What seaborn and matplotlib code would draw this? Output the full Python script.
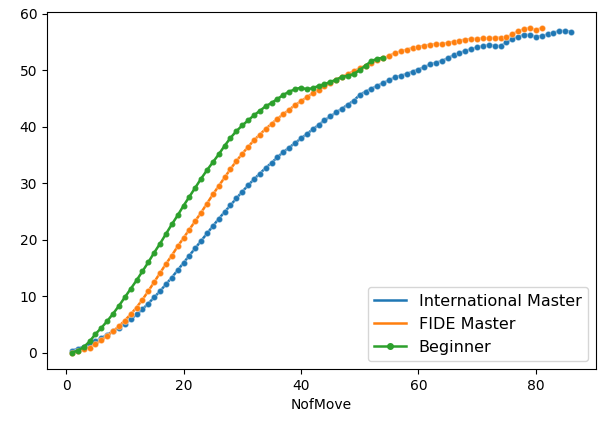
import numpy as np
import pandas as pd
import seaborn as sns
import matplotlib.pyplot as plt
from matplotlib.lines import Line2D

# Average value per move number
international_master = [
    0.4, 0.7, 1.1, 1.5, 2.0, 2.6, 3.2, 3.8, 4.4, 5.1,
    5.9, 6.8, 7.7, 8.7, 9.8, 10.9, 12.1, 13.3, 14.6, 15.9,
    17.2, 18.5, 19.8, 21.1, 22.4, 23.7, 24.9, 26.1, 27.3, 28.5,
    29.6, 30.7, 31.7, 32.7, 33.6, 34.6, 35.5, 36.3, 37.1, 37.9,
    38.7, 39.5, 40.3, 41.1, 41.8, 42.5, 43.2, 43.9, 44.6, 45.6,
    46.2, 46.7, 47.2, 47.7, 48.2, 48.7, 49.0, 49.3, 49.7, 50.1,
    50.5, 51.0, 51.3, 51.6, 52.1, 52.6, 53.0, 53.4, 53.7, 54.0,
    54.2, 54.4, 54.3, 54.2, 54.9, 55.5, 55.9, 56.2, 56.2, 55.9,
    56.0, 56.3, 56.6, 56.9, 56.9, 56.8,
]
fide_master = [
    0.0, 0.3, 0.6, 0.9, 1.5, 2.2, 3.0, 3.8, 4.7, 5.7,
    6.8, 8.0, 9.4, 10.9, 12.5, 14.1, 15.7, 17.2, 18.8, 20.3,
    21.8, 23.3, 24.8, 26.4, 28.0, 29.5, 31.0, 32.5, 33.9, 35.2,
    36.4, 37.6, 38.6, 39.6, 40.5, 41.4, 42.2, 43.0, 43.8, 44.5,
    45.2, 45.9, 46.5, 47.1, 47.7, 48.3, 48.8, 49.3, 49.8, 50.3,
    50.8, 51.3, 51.7, 52.1, 52.5, 53.0, 53.3, 53.6, 53.9, 54.1,
    54.3, 54.5, 54.6, 54.6, 54.8, 55.0, 55.2, 55.4, 55.5, 55.5,
    55.6, 55.6, 55.7, 55.7, 55.8, 56.3, 56.9, 57.2, 57.4, 57.1,
    57.4,
]
beginner = [
    0.0, 0.4, 1.0, 2.0, 3.3, 4.4, 5.6, 6.9, 8.3, 9.8,
    11.3, 12.8, 14.4, 16.0, 17.7, 19.3, 21.0, 22.7, 24.3, 26.0,
    27.6, 29.2, 30.8, 32.3, 33.7, 35.1, 36.6, 38.0, 39.2, 40.2,
    41.1, 42.0, 42.8, 43.6, 44.2, 44.9, 45.6, 46.2, 46.6, 46.9,
    46.6, 46.8, 47.2, 47.5, 47.9, 48.3, 48.8, 49.0, 49.3, 50.0,
    50.8, 51.6, 52.0, 52.2,
]
labels = ['International Master', 'FIDE Master', 'Beginner']

fig = plt.figure(figsize=(5.98, 4.24), dpi=100)
ax = fig.add_axes([47 / 598, 55 / 424, 549 / 598, 357 / 424])

series = [international_master, fide_master, beginner]
colors = ['C0', 'C1', 'C2']
for name, values, color in zip(labels, series, colors):
    df = pd.DataFrame({'NofMove': np.arange(1, len(values) + 1), 'value': values})
    if name == 'Beginner':
        sns.lineplot(data=df, x='NofMove', y='value', color=color, ax=ax,
                     marker='.', markersize=7, markeredgecolor=color, linewidth=1.8)
    else:
        # soft markers: same colour, semi-transparent edge
        sns.lineplot(data=df, x='NofMove', y='value', color=color, ax=ax,
                     marker='o', markersize=4.5, markeredgecolor=(1, 1, 1, 0.35),
                     markeredgewidth=0.8, linewidth=1.8)

ax.set_ylabel('')
ax.set_xlabel('NofMove', fontsize=10)
ax.tick_params(labelsize=10)
ax.set_xticks([0, 20, 40, 60, 80])
ax.set_yticks([0, 10, 20, 30, 40, 50, 60])

# legend: plain lines for the first two, dotted line for the beginner
handles = [
    Line2D([], [], color='C0', linewidth=1.8),
    Line2D([], [], color='C1', linewidth=1.8),
    Line2D([], [], color='C2', linewidth=1.8, marker='.', markersize=8),
]
ax.legend(handles, labels, loc='lower right', fontsize=11.5)

plt.savefig('out.png', dpi=100)
